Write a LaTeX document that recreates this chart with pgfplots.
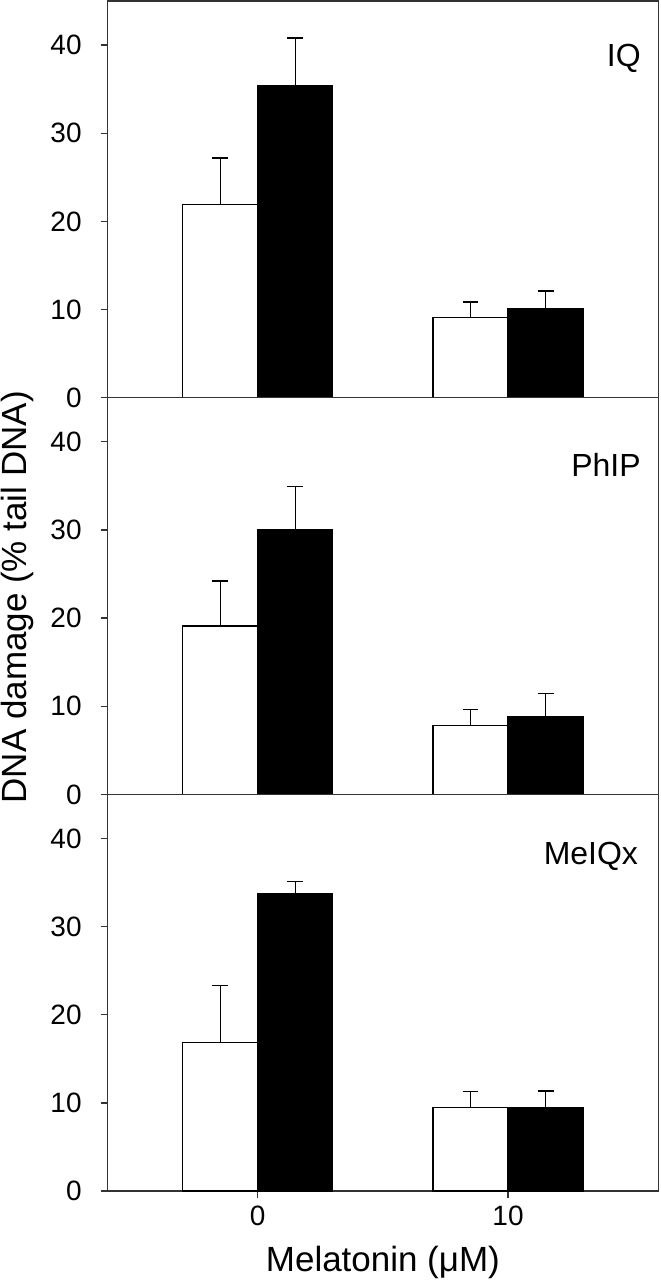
\documentclass[border=0pt]{standalone}
\usepackage{pgfplots}
\pgfplotsset{compat=1.18}
\usetikzlibrary{calc}
\usepackage{fontspec}
\setmainfont{Liberation Sans}
\begin{document}
\begin{tikzpicture}
\pgfplotsset{
  panel/.style={
    width=275.5pt, height=198.5pt, scale only axis,
    xmin=-0.6, xmax=1.6, ymin=0, ymax=45,
    ytick={0,10,20,30,40},
    axis line style={line width=0.6pt, black!80},
    tick style={line width=0.6pt, black!80},
    ytick pos=left, tick align=outside,
    major tick length=3.5pt,
    /pgf/number format/assume math mode=true,
    ticklabel style={font=\fontsize{14}{16}\selectfont},
    yticklabel style={xshift=-6pt},
    xtick=\empty,
    clip=false,
  },
  wbar/.style={ybar, bar width=0.3, bar shift=0pt, draw=black, fill=white, line width=0.6pt,
    error bars/.cd, y dir=plus, y explicit, error mark options={rotate=90, mark size=4pt, line width=0.6pt, black},
    error bar style={line width=0.6pt, black}},
  bbar/.style={ybar, bar width=0.3, bar shift=0pt, draw=black, fill=black, line width=0.6pt,
    error bars/.cd, y dir=plus, y explicit, error mark options={rotate=90, mark size=4pt, line width=0.6pt, black},
    error bar style={line width=0.6pt, black}},
}
% IQ
\begin{axis}[panel, name=p1, at={(0,0)}, anchor=north west]
\addplot[wbar] coordinates {(-0.15,21.9) +- (0,5.3) (0.85,9.1) +- (0,1.75)};
\addplot[bbar] coordinates {(0.15,35.4) +- (0,5.4) (1.15,10.1) +- (0,2.0)};
\node[anchor=east, font=\fontsize{16}{19}\selectfont] at (rel axis cs:0.981,0.855) {IQ};
\end{axis}
% PhIP
\begin{axis}[panel, name=p2, at={(0,-198.5pt)}, anchor=north west]
\addplot[wbar] coordinates {(-0.15,19.1) +- (0,5.1) (0.85,7.8) +- (0,1.8)};
\addplot[bbar] coordinates {(0.15,30.0) +- (0,4.9) (1.15,8.8) +- (0,2.6)};
\node[anchor=east, font=\fontsize{16}{19}\selectfont] at (rel axis cs:0.981,0.831) {PhIP};
\end{axis}
% MeIQx
\begin{axis}[panel, name=p3, at={(0,-397pt)}, anchor=north west,
  xtick={0,1}, xticklabels={0,10}, xtick pos=bottom,
  xticklabel style={yshift=-0.5pt}]
\addplot[wbar] coordinates {(-0.15,16.85) +- (0,6.45) (0.85,9.45) +- (0,1.85)};
\addplot[bbar] coordinates {(0.15,33.8) +- (0,1.35) (1.15,9.45) +- (0,1.9)};
\node[anchor=east, font=\fontsize{16}{19}\selectfont] at (rel axis cs:0.976,0.844) {MeIQx};
\end{axis}
\node[rotate=90, anchor=base, font=\fontsize{17.5}{21}\selectfont]
  at ($(p2.west)+(-40.35pt,-0.6pt)$) {DNA damage (\% tail DNA)};
\node[anchor=base, font=\fontsize{17.5}{21}\selectfont]
  at ($(p3.south)+(0,-40.35pt)$) {Melatonin (μM)};
\pgfresetboundingbox
\useasboundingbox ($(p1.north west)+(-53.85pt,0.5pt)$) rectangle ($(p3.south east)+(1.15pt,-45pt)$);
\end{tikzpicture}
\end{document}
